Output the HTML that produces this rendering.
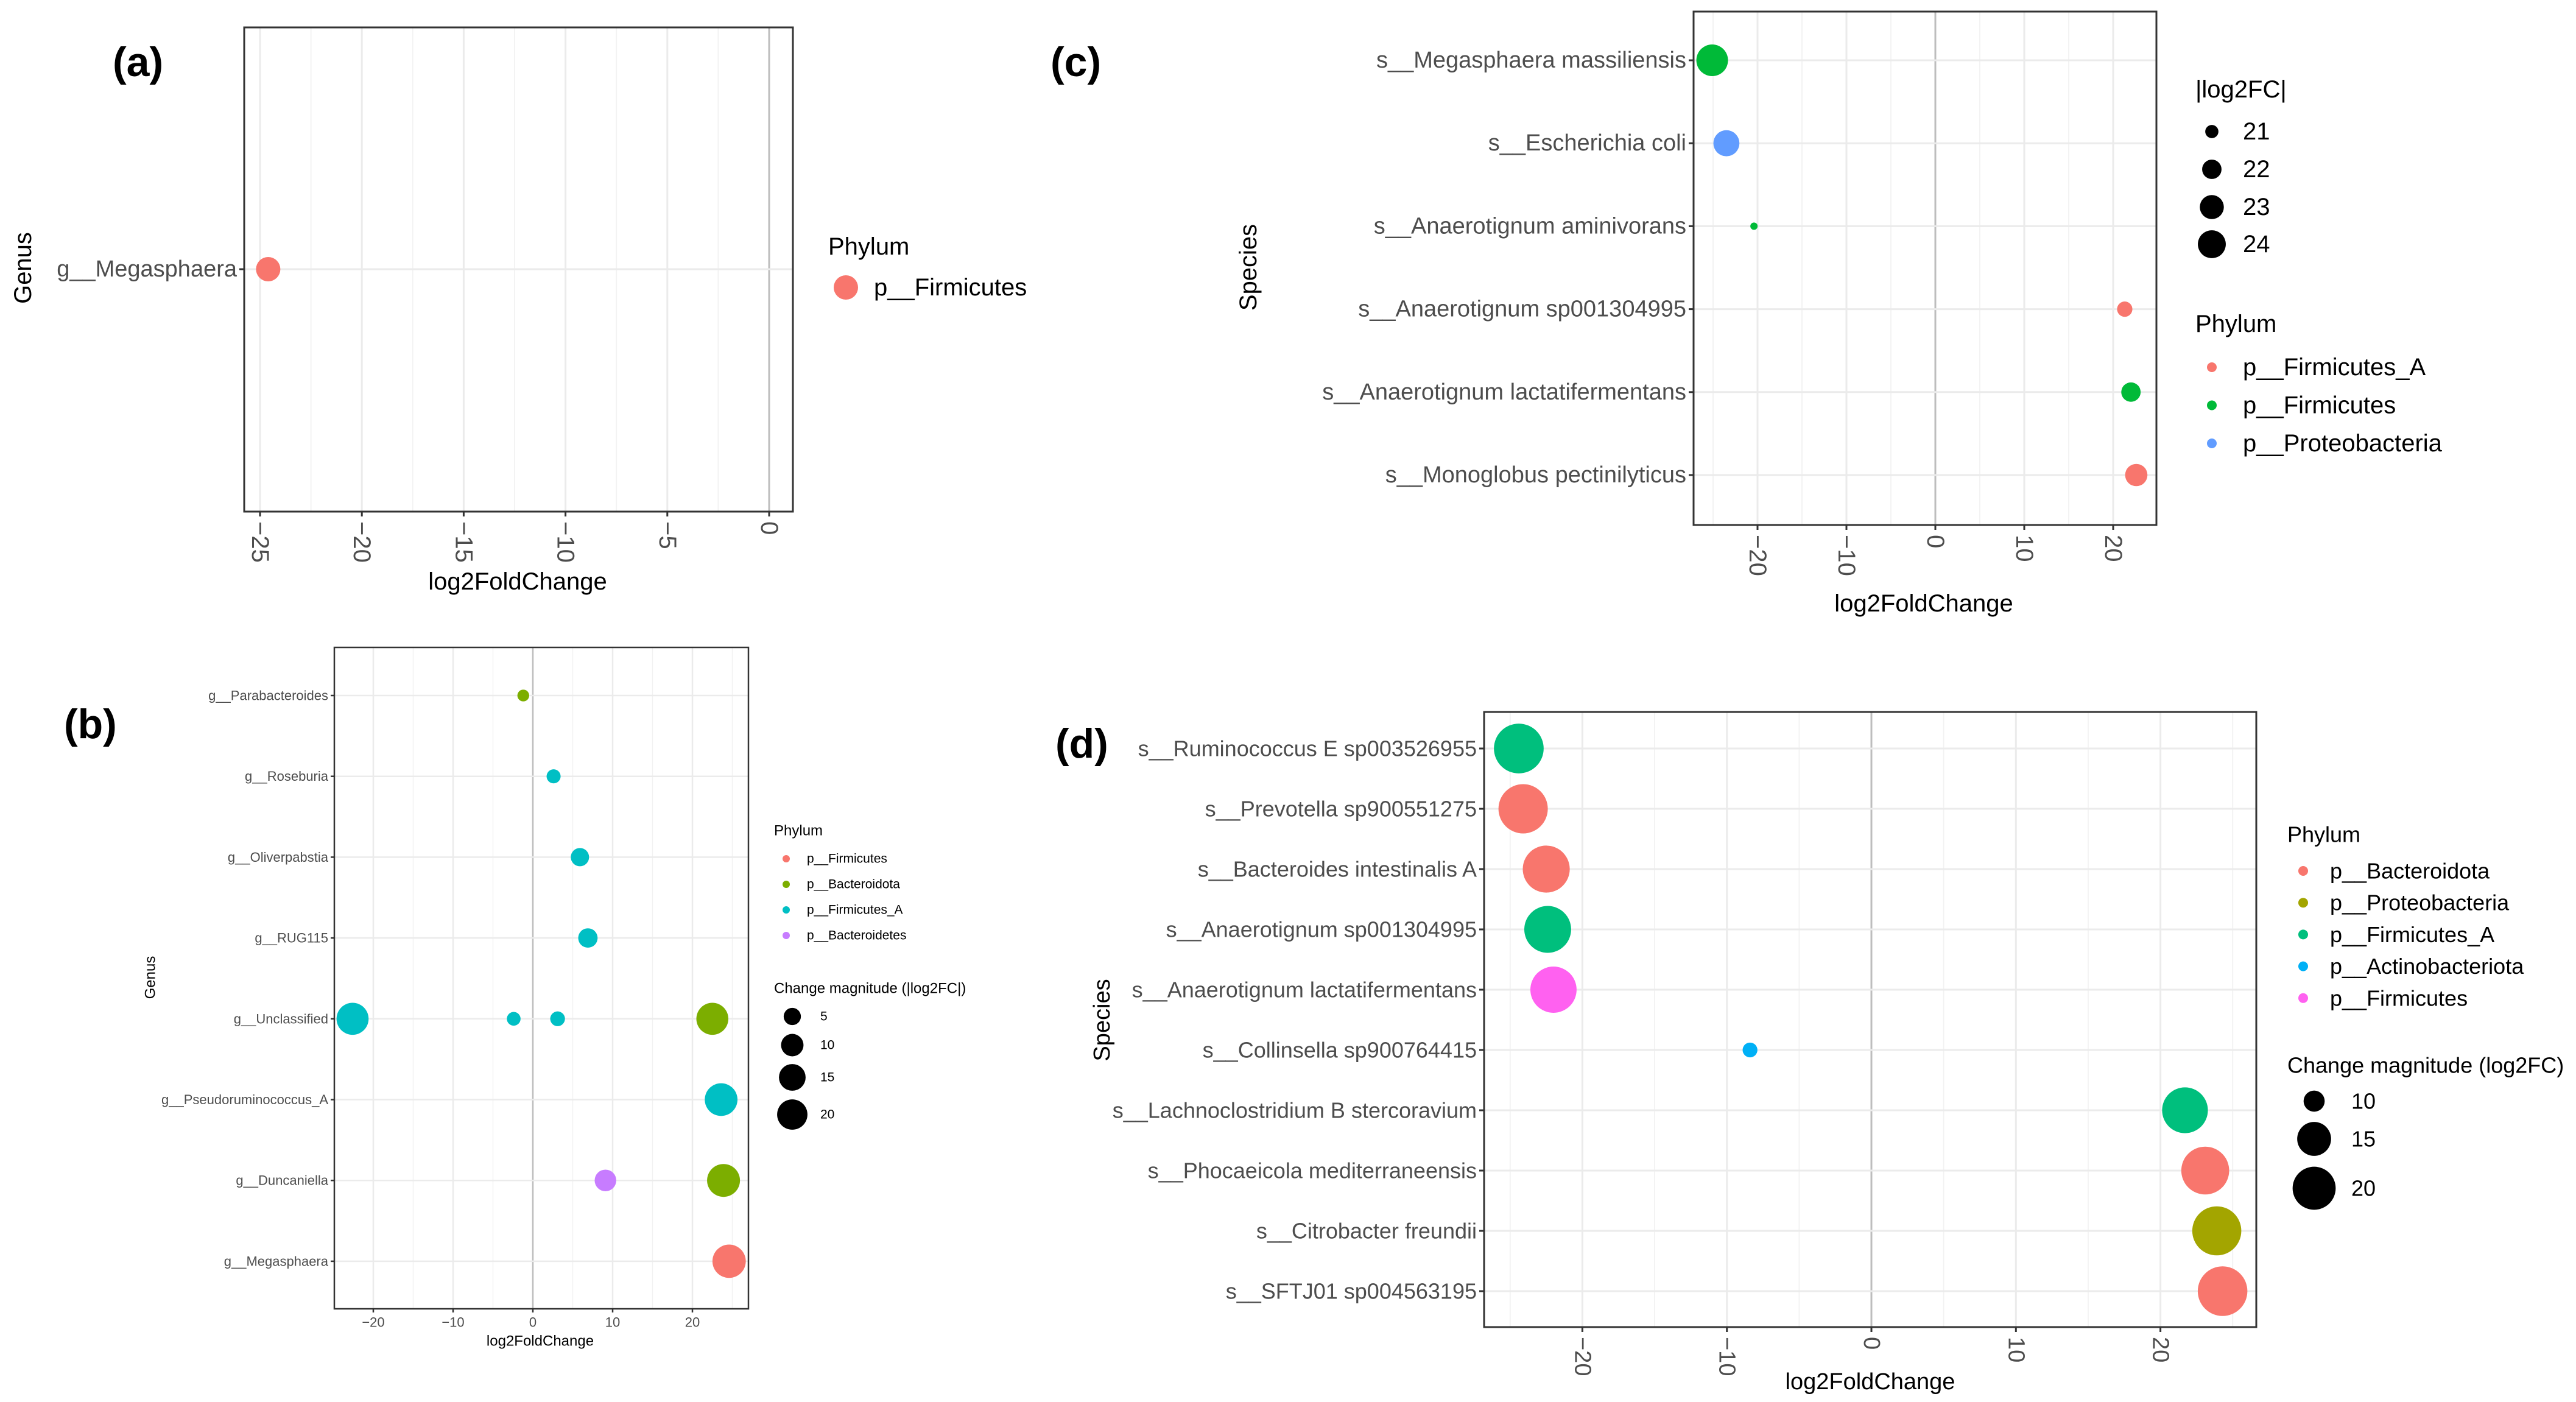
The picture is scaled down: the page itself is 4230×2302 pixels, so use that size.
<!DOCTYPE html>
<html><head><meta charset="utf-8"><style>
html,body{margin:0;padding:0;background:#fff;}
svg{display:block;font-family:"Liberation Sans",Arial,sans-serif;}
</style></head><body>
<svg id="fig" width="4230" height="2302" viewBox="0 0 4230 2302" xmlns="http://www.w3.org/2000/svg">
<rect width="4230" height="2302" fill="#fff"/>
<text x="185" y="125" font-size="68" font-weight="bold">(a)</text>
<text x="1725" y="125" font-size="68" font-weight="bold">(c)</text>
<text x="105" y="1212" font-size="68" font-weight="bold">(b)</text>
<text x="1733" y="1244" font-size="68" font-weight="bold">(d)</text>
</svg>
<script>
// ---------- Panel A data ----------
const aCategories = ["g__Megasphaera"];
const aValues = [-24.6];
const aPhylum = ["p__Firmicutes"];
const aTicks = [-25, -20, -15, -10, -5, 0];
const aPhylaLegend = ["p__Firmicutes"];

// ---------- Panel B data ----------
const bCategories = ["g__Parabacteroides","g__Roseburia","g__Oliverpabstia","g__RUG115","g__Unclassified","g__Pseudoruminococcus_A","g__Duncaniella","g__Megasphaera"];
const bPointCat = ["g__Parabacteroides","g__Roseburia","g__Oliverpabstia","g__RUG115","g__Unclassified","g__Unclassified","g__Unclassified","g__Unclassified","g__Pseudoruminococcus_A","g__Duncaniella","g__Duncaniella","g__Megasphaera"];
const bValues = [-1.2, 2.6, 5.9, 6.9, -22.6, -2.4, 3.1, 22.5, 23.6, 9.1, 23.9, 24.6];
const bPhylum = ["p__Bacteroidota","p__Firmicutes_A","p__Firmicutes_A","p__Firmicutes_A","p__Firmicutes_A","p__Firmicutes_A","p__Firmicutes_A","p__Bacteroidota","p__Firmicutes_A","p__Bacteroidetes","p__Bacteroidota","p__Firmicutes"];
const bTicks = [-20, -10, 0, 10, 20];
const bPhylaLegend = ["p__Firmicutes","p__Bacteroidota","p__Firmicutes_A","p__Bacteroidetes"];
const bSizeLegend = [5, 10, 15, 20];

// ---------- Panel C data ----------
const cCategories = ["s__Megasphaera massiliensis","s__Escherichia coli","s__Anaerotignum aminivorans","s__Anaerotignum sp001304995","s__Anaerotignum lactatifermentans","s__Monoglobus pectinilyticus"];
const cValues = [-25.1, -23.5, -20.4, 21.3, 22.0, 22.6];
const cPhylum = ["p__Firmicutes","p__Proteobacteria","p__Firmicutes","p__Firmicutes_A","p__Firmicutes","p__Firmicutes_A"];
const cTicks = [-20, -10, 0, 10, 20];
const cPhylaLegend = ["p__Firmicutes_A","p__Firmicutes","p__Proteobacteria"];
const cSizeLegend = [21, 22, 23, 24];

// ---------- Panel D data ----------
const dCategories = ["s__Ruminococcus E sp003526955","s__Prevotella sp900551275","s__Bacteroides intestinalis A","s__Anaerotignum sp001304995","s__Anaerotignum lactatifermentans","s__Collinsella sp900764415","s__Lachnoclostridium B stercoravium","s__Phocaeicola mediterraneensis","s__Citrobacter freundii","s__SFTJ01 sp004563195"];
const dValues = [-24.4, -24.1, -22.5, -22.4, -22.0, -8.4, 21.7, 23.1, 23.9, 24.3];
const dPhylum = ["p__Firmicutes_A","p__Bacteroidota","p__Bacteroidota","p__Firmicutes_A","p__Firmicutes","p__Actinobacteriota","p__Firmicutes_A","p__Bacteroidota","p__Proteobacteria","p__Bacteroidota"];
const dTicks = [-20, -10, 0, 10, 20];
const dPhylaLegend = ["p__Bacteroidota","p__Proteobacteria","p__Firmicutes_A","p__Actinobacteriota","p__Firmicutes"];
const dSizeLegend = [10, 15, 20];

const NS = "http://www.w3.org/2000/svg";
const svg = document.getElementById("fig");
function mk(tag, attrs, parent) {
  const e = document.createElementNS(NS, tag);
  for (const k in attrs) e.setAttribute(k, attrs[k]);
  (parent || svg).appendChild(e);
  return e;
}
function label(txt, x, y, size, anchor, parent, extra) {
  const t = mk("text", Object.assign({x: x, y: y, "font-size": size, "text-anchor": anchor || "start", "dominant-baseline": "central", fill: "#4d4d4d"}, extra || {}), parent);
  t.textContent = txt;
  return t;
}

function panel(p) {
  const g = mk("g", {});
  
  
  const xs = v => p.x0 + v * p.ppu;
  const vmin = (p.L - p.x0) / p.ppu, vmax = (p.R - p.x0) / p.ppu;
  const n = p.cats.length;
  const ys = c => p.yFirst + p.cats.indexOf(c) * p.yStep;
  // minor grid
  for (let v = Math.ceil(vmin / p.step) * p.step - p.step / 2; v <= vmax; v += p.step) {
    if (v < vmin) continue;
    const l = mk("line", {x1: xs(v), x2: xs(v), y1: p.T, y2: p.B, stroke: "#f2f2f2", "stroke-width": p.gw * 0.6}, g);
    
    
  }
  // major grid
  p.ticks.forEach(v => {
    const l = mk("line", {x1: xs(v), x2: xs(v), y1: p.T, y2: p.B, stroke: v === 0 ? "#bdbdbd" : "#ebebeb", "stroke-width": p.gw}, g);
    
    
  });
  // horizontal grid
  p.cats.forEach(c => {
    const l = mk("line", {x1: p.L, x2: p.R, y1: ys(c), y2: ys(c), stroke: "#ebebeb", "stroke-width": p.gw}, g);
    
    
    const tk = mk("line", {x1: p.L - p.tk, x2: p.L, y1: ys(c), y2: ys(c), stroke: "#333", "stroke-width": p.gw}, g);
    
    
    const t = label(c, p.L - p.tk - 4, ys(c), p.fs, "end", g);
    
    
  });
  // points
  p.vals.forEach((v, i) => {
    const r = p.rad(Math.abs(v));
    const c = mk("circle", {cx: xs(v), cy: ys(p.pcats[i]), r: r, fill: p.colors[p.phy[i]]}, g);
    
    
  });
  // frame
  const fr = mk("rect", {x: p.L, y: p.T, width: p.R - p.L, height: p.B - p.T, fill: "none", stroke: "#333", "stroke-width": p.gw}, g);
  
  
  // x ticks
  p.ticks.forEach(v => {
    const tk = mk("line", {x1: xs(v), x2: xs(v), y1: p.B, y2: p.B + p.tk, stroke: "#333", "stroke-width": p.gw}, g);
    
    
    let t;
    const s = v < 0 ? "\u2212" + Math.abs(v) : String(v);
    if (p.rot) {
      t = label(s, xs(v), p.B + p.tk + 8, p.tfs, "start", g, {transform: "rotate(90," + xs(v) + "," + (p.B + p.tk + 8) + ")"});
    } else {
      t = label(s, xs(v), p.B + p.tk + 16, p.tfs, "middle", g);
    }
    
    
  });
  const xt = label("log2FoldChange", p.xtX, p.xtY, p.afs, "middle", g, {fill: "#000"});
  
  
  const yt = label(p.ytitle, p.ytX, p.ytY, p.afs, "middle", g, {fill: "#000", transform: "rotate(-90," + p.ytX + "," + p.ytY + ")"});
  
  
  // legends
  const lt = label("Phylum", p.lgX, p.lgTitleY, p.lfs, "start", g, {fill: "#000"});
  
  
  p.legPhy.forEach((ph, i) => {
    const y = p.lgY0 + i * p.lgStep;
    const d = mk("circle", {cx: p.lgDotX, cy: y, r: p.lgR, fill: p.colors[ph]}, g);
    
    
    const t = label(ph, p.lgTextX, y, p.lfs2, "start", g, {fill: "#000"});
    
    
  });
  if (p.sizeLeg) {
    const st = label(p.sizeTitle, p.lgX, p.sTitleY, p.lfs, "start", g, {fill: "#000"});
    
    
    p.sizeLeg.forEach((v, i) => {
      const y = p.sYs[i];
      const d = mk("circle", {cx: p.sDotX, cy: y, r: p.rad(v), fill: "#000"}, g);
      
      
      const t = label(String(v), p.sTextX, y, p.lfs2, "start", g, {fill: "#000"});
      
      
    });
  }
}

panel({name: "panel-a", L: 401, R: 1302, T: 45, B: 840, x0: 1263, ppu: 33.44, step: 5, gw: 3, tk: 8,
  cats: aCategories, pcats: aCategories, vals: aValues, phy: aPhylum, ticks: aTicks,
  yFirst: 442, yStep: 0, rad: v => 20, colors: {"p__Firmicutes": "#F8766D"},
  fs: 38, tfs: 40, afs: 40, rot: true, xtX: 850, xtY: 955, ytitle: "Genus", ytX: 38, ytY: 440,
  lgX: 1360, lgTitleY: 405, legPhy: aPhylaLegend, lgY0: 472, lgStep: 60, lgDotX: 1389, lgR: 20, lgTextX: 1435, lfs: 40, lfs2: 40});

panel({name: "panel-b", L: 549, R: 1229, T: 1063, B: 2149, x0: 875, ppu: 13.1, step: 10, gw: 2.5, tk: 6,
  cats: bCategories, pcats: bPointCat, vals: bValues, phy: bPhylum, ticks: bTicks,
  yFirst: 1142, yStep: 132.7, rad: v => Math.sqrt(60 + 28 * v),
  colors: {"p__Firmicutes": "#F8766D", "p__Bacteroidota": "#7CAE00", "p__Firmicutes_A": "#00BFC4", "p__Bacteroidetes": "#C77CFF"},
  fs: 22, tfs: 22, afs: 24, rot: false, xtX: 887, xtY: 2202, ytitle: "Genus", ytX: 247, ytY: 1605,
  lgX: 1271, lgTitleY: 1364, legPhy: bPhylaLegend, lgY0: 1410, lgStep: 42, lgDotX: 1291, lgR: 6, lgTextX: 1325, lfs: 24, lfs2: 21,
  sizeLeg: bSizeLegend, sizeTitle: "Change magnitude (|log2FC|)", sTitleY: 1623, sYs: [1669, 1716, 1769, 1830], sDotX: 1301, sTextX: 1347});

panel({name: "panel-c", L: 2781, R: 3541, T: 19, B: 862, x0: 3178, ppu: 14.6, step: 10, gw: 3, tk: 8,
  cats: cCategories, pcats: cCategories, vals: cValues, phy: cPhylum, ticks: cTicks,
  yFirst: 99, yStep: 136.2, rad: v => Math.sqrt(Math.max(36 + 136 * (v - 20.4), 36)),
  colors: {"p__Firmicutes_A": "#F8766D", "p__Firmicutes": "#00BA38", "p__Proteobacteria": "#619CFF"},
  fs: 38, tfs: 40, afs: 40, rot: true, xtX: 3159, xtY: 991, ytitle: "Species", ytX: 2050, ytY: 439,
  lgX: 3605, lgTitleY: 532, legPhy: cPhylaLegend, lgY0: 603, lgStep: 62.5, lgDotX: 3632, lgR: 8, lgTextX: 3683, lfs: 40, lfs2: 40,
  sizeLeg: cSizeLegend, sizeTitle: "|log2FC|", sTitleY: 147, sYs: [216, 278, 340, 401], sDotX: 3632, sTextX: 3683});

panel({name: "panel-d", L: 2437, R: 3705, T: 1169, B: 2179, x0: 3073, ppu: 23.73, step: 10, gw: 3, tk: 8,
  cats: dCategories, pcats: dCategories, vals: dValues, phy: dPhylum, ticks: dTicks,
  yFirst: 1229, yStep: 99, rad: v => Math.sqrt(Math.max(-650 + 95 * v, 100)),
  colors: {"p__Bacteroidota": "#F8766D", "p__Proteobacteria": "#A3A500", "p__Firmicutes_A": "#00BF7D", "p__Actinobacteriota": "#00B0F6", "p__Firmicutes": "#FF61F0"},
  fs: 36, tfs: 38, afs: 38, rot: true, xtX: 3071, xtY: 2269, ytitle: "Species", ytX: 1810, ytY: 1675,
  lgX: 3756, lgTitleY: 1370, legPhy: dPhylaLegend, lgY0: 1430, lgStep: 52.2, lgDotX: 3782, lgR: 8, lgTextX: 3826, lfs: 36, lfs2: 36,
  sizeLeg: dSizeLegend, sizeTitle: "Change magnitude (log2FC)", sTitleY: 1749, sYs: [1808, 1870, 1951], sDotX: 3800, sTextX: 3861});
</script>
</body></html>
